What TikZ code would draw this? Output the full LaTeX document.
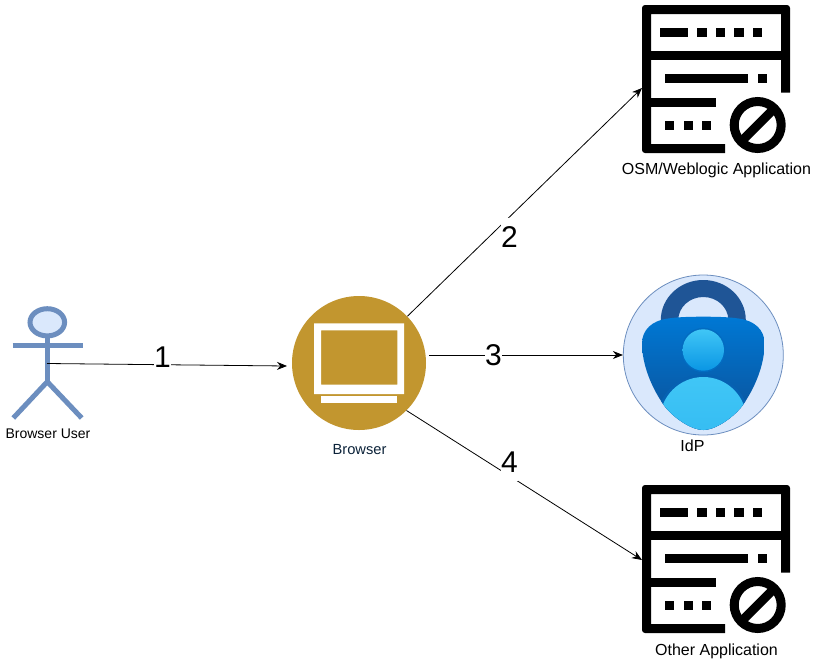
\documentclass[tikz,border=0pt]{standalone}
\usepackage{fontspec}
\setmainfont{Liberation Sans}
\usetikzlibrary{arrows.meta}
\definecolor{actorline}{HTML}{6C8EBF}
\definecolor{actorfill}{HTML}{DAE8FC}
\definecolor{gold}{HTML}{C2962F}
\definecolor{navytext}{HTML}{0B2239}
\definecolor{lockdark}{HTML}{1F5596}
\definecolor{shieldtop}{HTML}{0078D4}
\definecolor{shieldbot}{HTML}{0B4F96}
\definecolor{personlight}{HTML}{40C6F6}
\definecolor{personmid}{HTML}{0A96E4}
\tikzset{
  conn/.style={draw=black,line width=0.8pt,-{Stealth[length=10pt,width=8pt]}},
  numlabel/.style={fill=white,inner sep=0pt,minimum width=17pt,minimum height=38pt,font=\fontsize{30}{34}\selectfont},
  caption/.style={inner sep=0pt,font=\fontsize{16}{19}\selectfont},
  smallcaption/.style={inner sep=0pt,font=\fontsize{14}{17}\selectfont},
  actorstroke/.style={draw=actorline,line width=5pt},
  serverpic/.pic={
    \fill[black] (725,153) [rounded corners=3pt] -- (642,153) -- (642,5) -- (790,5) [sharp corners] -- (790,92.7) -- (781,92.7) -- (781,14) -- (651,14) -- (651,144) -- (725,144) -- cycle;
    \fill[black] (651,51) rectangle (781,60);
    \fill[black] (651,98) rectangle (716,107);
    \fill[black] (660,28) rectangle (688,37);
    \fill[black] (697,28) rectangle (707,37);
    \fill[black] (716,28) rectangle (725,37);
    \fill[black] (734,28) rectangle (744,37);
    \fill[black] (753,28) rectangle (762,37);
    \fill[black] (665,74) rectangle (748,83);
    \fill[black] (758,74) rectangle (767,83);
    \fill[black] (665,120.5) rectangle (674,129.5);
    \fill[black] (683.5,120.5) rectangle (692.5,129.5);
    \fill[black] (702,120.5) rectangle (711,129.5);
    \draw[black,line width=9pt] (757.7,125) circle[radius=23.5pt];
    \draw[black,line width=9pt] (741,141.7) -- (774.4,108.3);
  },
}
\begin{document}
\begin{tikzpicture}[x=1pt,y=-1pt]
\useasboundingbox (0,0) rectangle (817,665);
\fill[white] (0,0) rectangle (817,665);

% actor
\draw[actorstroke,fill=actorfill] (47.3,322.3) ellipse[x radius=17.3pt,y radius=13.6pt];
\draw[actorstroke] (47.3,336) -- (47.3,381.7);
\draw[actorstroke] (12.7,345) -- (82.7,345);
\draw[actorstroke] (13.3,418) -- (47.3,381.7) -- (81.7,418);
\node[smallcaption,text=black] (userlabel) at (48,433.5) {Browser User};
\coordinate (usergrip) at (47,363.5);

% browser
\node[circle,fill=gold,minimum size=134pt,inner sep=0pt] (browser) at (359,363) {};
\fill[white,even odd rule] (314,323.3) rectangle (404,394) (321,330.3) rectangle (397.3,384.7);
\fill[white] (321,395.7) rectangle (397.3,402.7);
\node[caption,text=navytext,font=\fontsize{14.67}{17}\selectfont] (browserlabel) at (359.5,449.5) {Browser};
\coordinate (browserin) at (287,366);
\coordinate (browserout) at (429,355);

% servers
\pic (srvA) at (0,0) {serverpic};
\pic (srvB) at (0,480) {serverpic};
\node[caption] (osmlabel) at (716.5,170.5) {OSM/Weblogic Application};
\node[caption] (otherlabel) at (716.5,651) {Other Application};
\coordinate (osmin) at (642,88);
\coordinate (otherin) at (642,560);

% IdP
\node[circle,draw=actorline,line width=0.8pt,fill=actorfill,minimum size=160pt,inner sep=0pt] (idp) at (703.3,355) {};
\begin{scope}
  \clip (600,270) rectangle (800,322);
  \fill[lockdark,even odd rule] (703.3,320) ellipse[x radius=42.5pt,y radius=40pt] (703.3,320) ellipse[x radius=25pt,y radius=23pt];
\end{scope}
\def\shieldpath{(703.3,316.7) .. controls (690,316.7) and (678,317) .. (668,318.5) .. controls (652,320.5) and (642,330) .. (642,343.3) .. controls (642,365) and (652,389) .. (665,406.7) .. controls (675,419) and (692,430) .. (703.3,430) .. controls (714.6,430) and (731.6,419) .. (741.6,406.7) .. controls (754.6,389) and (764.6,365) .. (764.6,343.3) .. controls (764.6,330) and (754.6,320.5) .. (738.6,318.5) .. controls (728.6,317) and (716.6,316.7) .. (703.3,316.7) -- cycle}
\shade[top color=shieldtop,bottom color=shieldbot] \shieldpath;
\begin{scope}
  \clip \shieldpath;
  \fill[shieldtop!45!shieldbot] (703.3,420) ellipse[x radius=46pt,y radius=46pt];
  \shade[top color=personlight,bottom color=personlight!70!personmid] (703.3,421) ellipse[x radius=43.5pt,y radius=44pt];
\end{scope}
\fill[shieldtop!70!shieldbot] (703.3,350) circle[radius=22.2pt];
\shade[top color=personlight,bottom color=personmid] (703.3,350) circle[radius=20.7pt];
\node[caption] (idplabel) at (692.5,446) {IdP};

% connectors
\draw[conn] (usergrip) -- (browserin);
\draw[conn] (browser.44) -- (osmin);
\draw[conn] (browserout) -- (idp.west);
\draw[conn] (browser.-45) -- (otherin);

% connector labels
\node[numlabel] (n1) at (162.5,357.5) {1};
\node[numlabel] (n2) at (509.5,237) {2};
\node[numlabel] (n3) at (493.5,355) {3};
\node[numlabel] (n4) at (509.5,462) {4};
\end{tikzpicture}
\end{document}
